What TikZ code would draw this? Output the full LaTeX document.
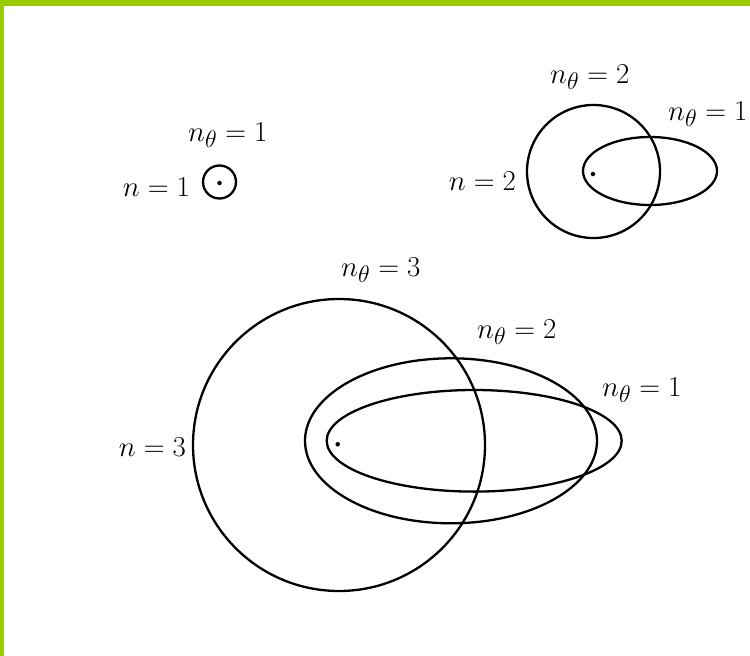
\documentclass[tikz,border=0pt]{standalone}
\definecolor{frame}{HTML}{99CC00}
\newcommand{\orbitlabel}[1]{\scalebox{1.16}{$#1$}}
\begin{document}
\begin{tikzpicture}[x=1pt,y=-1pt,
  orbit/.style={line width=2.3pt, draw=black},
  lab/.style={anchor=base west, inner sep=0pt, font=\fontsize{24.88}{30}\selectfont},
  labr/.style={lab, anchor=base east},
  nucleus/.style={fill=black, circle, inner sep=0pt, minimum size=4.5pt}]
\useasboundingbox (0,0) rectangle (750,656);
\fill[white] (0,0) rectangle (750,656);
\fill[frame] (0,0) rectangle (750,6);
\fill[frame] (0,0) rectangle (3.5,656);

% n = 1
\coordinate (c1) at (219.5,182);
\draw[orbit] (c1) circle[radius=16.5];
\node[nucleus] (k1) at (219.5,183) {};
\node[lab] (l1a) at (188,141) {\orbitlabel{n_{\theta}=1}};
\node[labr] (l1b) at (190,196) {\orbitlabel{n=1}};

% n = 2
\coordinate (c2) at (593.5,171.5);
\draw[orbit] (c2) circle[radius=66.5];
\draw[orbit] (650,171) ellipse[x radius=67, y radius=34];
\node[nucleus] (k2) at (593,174) {};
\node[lab] (l2a) at (550,83) {\orbitlabel{n_{\theta}=2}};
\node[lab] (l2b) at (668,120) {\orbitlabel{n_{\theta}=1}};
\node[labr] (l2c) at (516,190) {\orbitlabel{n=2}};

% n = 3
\coordinate (c3) at (339,445);
\draw[orbit] (c3) circle[radius=146];
\draw[orbit] (451,440.8) ellipse[x radius=146, y radius=82.5];
\draw[orbit] (474.2,440.8) ellipse[x radius=147.5, y radius=50.8];
\node[nucleus] (k3) at (337.7,444.3) {};
\node[lab] (l3a) at (341,276) {\orbitlabel{n_{\theta}=3}};
\node[lab] (l3b) at (477,338) {\orbitlabel{n_{\theta}=2}};
\node[lab] (l3c) at (602,396) {\orbitlabel{n_{\theta}=1}};
\node[labr] (l3d) at (186,456) {\orbitlabel{n=3}};
\end{tikzpicture}
\end{document}
